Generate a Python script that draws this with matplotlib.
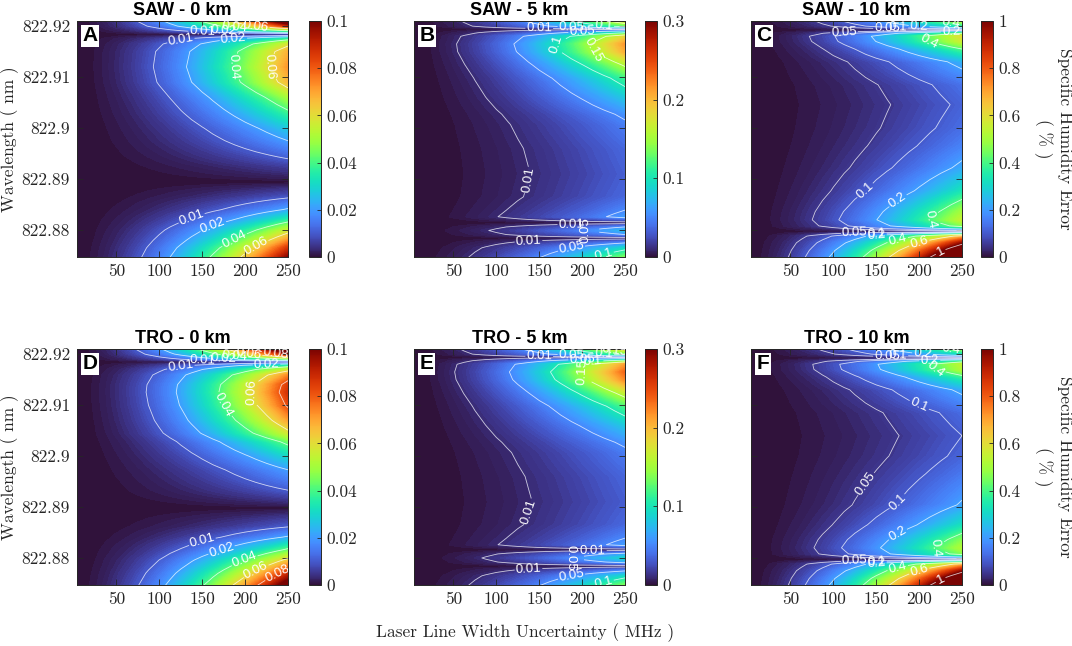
import numpy as np
import matplotlib
matplotlib.use("Agg")
import matplotlib.pyplot as plt
from matplotlib import cm, colors

# ---------------- data ----------------
# laser line width uncertainty (MHz) and relative error growth with width
widths = [0, 12.5, 25, 37.5, 50, 62.5, 75, 87.5, 100, 112.5, 125, 137.5, 150,
          162.5, 175, 187.5, 200, 212.5, 225, 237.5, 250]
growth = [0.0, 0.0025, 0.01, 0.0225, 0.04, 0.0625, 0.09, 0.1225, 0.16, 0.2025,
          0.25, 0.3025, 0.36, 0.4225, 0.49, 0.5625, 0.64, 0.7225, 0.81, 0.9025,
          1.0]

# wavelength nodes (nm) and specific humidity error (%) at 250 MHz
lam_A = [822.8745, 822.8765, 822.878, 822.880, 822.882, 822.884, 822.8865,
         822.8894, 822.8925, 822.8947, 822.8975, 822.900, 822.903, 822.906,
         822.909, 822.912, 822.915, 822.9165, 822.9175, 822.9184, 822.919,
         822.920, 822.9212]
err_A = [0.1, 0.086, 0.072, 0.055, 0.036, 0.021, 0.009, 0.0, 0.006, 0.012,
         0.02, 0.027, 0.038, 0.05, 0.066, 0.072, 0.068, 0.057, 0.036, 0.0,
         0.035, 0.085, 0.12]

lam_B = [822.8745, 822.8765, 822.8777, 822.8784, 822.8791, 822.8799, 822.8806,
         822.8814, 822.8826, 822.8839, 822.8865, 822.891, 822.896, 822.9007,
         822.9027, 822.9059, 822.9098, 822.9124, 822.915, 822.9165, 822.918,
         822.9187, 822.9194, 822.920, 822.9212]
err_B = [0.14, 0.09, 0.04, 0.0, 0.05, 0.075, 0.05, 0.0, 0.06, 0.05, 0.036,
         0.032, 0.036, 0.046, 0.055, 0.08, 0.115, 0.155, 0.205, 0.215, 0.18,
         0.1, 0.0, 0.12, 0.19]

lam_C = [822.8745, 822.876, 822.8775, 822.8788, 822.8797, 822.8808, 822.882,
         822.8836, 822.8877, 822.8922, 822.8965, 822.900, 822.9046, 822.9085,
         822.913, 822.9155, 822.917, 822.918, 822.9186, 822.9192, 822.920,
         822.9212]
err_C = [1.4, 1.2, 0.95, 0.65, 0.0, 0.45, 0.55, 0.5, 0.33, 0.22, 0.16, 0.13,
         0.112, 0.135, 0.23, 0.4, 0.56, 0.6, 0.4, 0.0, 0.33, 0.55]

lam_D = [822.8745, 822.877, 822.8796, 822.8816, 822.8841, 822.8861, 822.8898,
         822.8933, 822.8973, 822.900, 822.9028, 822.9045, 822.907, 822.910,
         822.9125, 822.914, 822.9159, 822.917, 822.9178, 822.9185, 822.919,
         822.920, 822.9212]
err_D = [0.11, 0.088, 0.063, 0.042, 0.021, 0.01, 0.0, 0.01, 0.02, 0.03, 0.043,
         0.057, 0.07, 0.082, 0.087, 0.085, 0.073, 0.055, 0.032, 0.0, 0.04,
         0.09, 0.125]

lam_E = [822.8745, 822.8765, 822.8777, 822.8784, 822.8792, 822.8800, 822.8808,
         822.8816, 822.8826, 822.8839, 822.8865, 822.891, 822.896, 822.9007,
         822.9027, 822.9059, 822.9098, 822.9124, 822.915, 822.9165, 822.918,
         822.9187, 822.9194, 822.920, 822.9212]
err_E = [0.14, 0.09, 0.04, 0.0, 0.06, 0.09, 0.06, 0.0, 0.06, 0.05, 0.036,
         0.031, 0.035, 0.045, 0.055, 0.08, 0.12, 0.165, 0.22, 0.235, 0.21,
         0.12, 0.0, 0.12, 0.2]

lam_F = [822.8745, 822.876, 822.8775, 822.8788, 822.8797, 822.8808, 822.882,
         822.8836, 822.8865, 822.8904, 822.8965, 822.900, 822.904, 822.9085,
         822.913, 822.9155, 822.917, 822.918, 822.9186, 822.9192, 822.920,
         822.9212]
err_F = [1.4, 1.2, 0.95, 0.65, 0.0, 0.45, 0.52, 0.46, 0.32, 0.21, 0.145, 0.115,
         0.1, 0.125, 0.22, 0.37, 0.52, 0.54, 0.36, 0.0, 0.3, 0.5]

titles = ["SAW - 0 km", "SAW - 5 km", "SAW - 10 km",
          "TRO - 0 km", "TRO - 5 km", "TRO - 10 km"]
letters = ["A", "B", "C", "D", "E", "F"]
vmaxes = [0.1, 0.3, 1.0, 0.1, 0.3, 1.0]
contour_levels = [[0.01, 0.02, 0.04, 0.06],
                  [0.01, 0.05, 0.1, 0.15],
                  [0.05, 0.1, 0.2, 0.4, 0.6, 1.0],
                  [0.01, 0.02, 0.04, 0.06, 0.08],
                  [0.01, 0.05, 0.1, 0.15],
                  [0.05, 0.1, 0.2, 0.4, 0.6, 1.0]]
cbar_ticks = [[0, 0.02, 0.04, 0.06, 0.08, 0.1],
              [0, 0.1, 0.2, 0.3],
              [0, 0.2, 0.4, 0.6, 0.8, 1.0]]
cbar_ticklabels = [["0", "0.02", "0.04", "0.06", "0.08", "0.1"],
                   ["0", "0.1", "0.2", "0.3"],
                   ["0", "0.2", "0.4", "0.6", "0.8", "1"]]
xticks = [50, 100, 150, 200, 250]
yticks = [822.88, 822.89, 822.90, 822.91, 822.92]
yticklabels = ["822.88", "822.89", "822.9", "822.91", "822.92"]

lams = [lam_A, lam_B, lam_C, lam_D, lam_E, lam_F]
errs = [err_A, err_B, err_C, err_D, err_E, err_F]

# ---------------- styling ----------------
plt.rcParams["font.family"] = ["cmr10", "DejaVu Serif"]
plt.rcParams["axes.formatter.use_mathtext"] = True
SANS = ["Liberation Sans", "DejaVu Sans"]
TICK_FS = 12.5
cmap = plt.get_cmap("turbo")

FW, FH = 1072, 646
fig = plt.figure(figsize=(FW / 100, FH / 100), dpi=100)

ax_left = [77, 414, 751]
cb_left = [309, 645, 981]
row_top = [21, 349]
AW, AH, CBW = 211, 236, 12


def frac(x, y, w, h):
    return [x / FW, 1 - (y + h) / FH, w / FW, h / FH]


for i in range(6):
    r, c = divmod(i, 3)
    ax = fig.add_axes(frac(ax_left[c], row_top[r], AW, AH))
    Z = np.outer(errs[i], growth)
    vmax = vmaxes[i]
    lv = np.linspace(0, vmax, 151)
    cf = ax.contourf(widths, lams[i], Z, levels=lv, cmap=cmap, extend="max")
    cf.set_edgecolor("face")
    cf.set_linewidth(0.3)
    cs = ax.contour(widths, lams[i], Z, levels=contour_levels[i],
                    colors="white", linewidths=0.6, alpha=0.75)
    txts = ax.clabel(cs, fmt=lambda v: f"{v:g}", fontsize=9.5, inline=True,
                     inline_spacing=2, colors="white")
    for t in txts:
        t.set_fontfamily(SANS)
        t.set_alpha(1)

    ax.set_xlim(4, 250)
    ax.set_ylim(822.8747, 822.921)
    ax.set_xticks(xticks)
    ax.set_xticklabels([str(v) for v in xticks])
    ax.set_yticks(yticks)
    if c == 0:
        ax.set_yticklabels(yticklabels)
    else:
        ax.set_yticklabels([])
    ax.tick_params(direction="in", length=4, width=0.6, top=True, right=True,
                   labelsize=TICK_FS, colors="#262626", pad=5)
    for s in ax.spines.values():
        s.set_linewidth(0.7)
        s.set_color("#262626")

    ax.set_title(titles[i], fontsize=13, fontweight="bold", family=SANS,
                 pad=4)
    ax.text(0.026, 0.978, letters[i], transform=ax.transAxes, ha="left",
            va="top", fontsize=15, fontweight="bold", family=SANS,
            bbox=dict(facecolor="white", edgecolor="none", pad=1.2), zorder=5)

    cax = fig.add_axes(frac(cb_left[c], row_top[r], CBW, AH))
    sm = cm.ScalarMappable(norm=colors.Normalize(0, vmax), cmap=cmap)
    cb = fig.colorbar(sm, cax=cax)
    cb.set_ticks(cbar_ticks[c])
    cb.set_ticklabels(cbar_ticklabels[c])
    cax.tick_params(direction="in", length=3, width=0.6, labelsize=TICK_FS,
                    colors="#262626", pad=4)
    cb.outline.set_linewidth(0.7)
    cb.outline.set_edgecolor("#262626")

    if c == 2:
        ymid = 1 - (row_top[r] + AH / 2) / FH
        fig.text(1053 / FW, ymid, "Specific Humidity Error\n( % )",
                 rotation=-90, ha="center", va="center", ma="center",
                 fontsize=TICK_FS, color="#262626", linespacing=1.3)
    if c == 0:
        ymid = 1 - (row_top[r] + AH / 2) / FH
        fig.text(10 / FW, ymid, "Wavelength ( nm )", rotation=90,
                 ha="center", va="center", fontsize=TICK_FS, color="#262626")

fig.text(525 / FW, 1 - 633 / FH, "Laser Line Width Uncertainty ( MHz )",
         ha="center", va="center", fontsize=TICK_FS, color="#262626")

fig.savefig("out.png", dpi=100)
